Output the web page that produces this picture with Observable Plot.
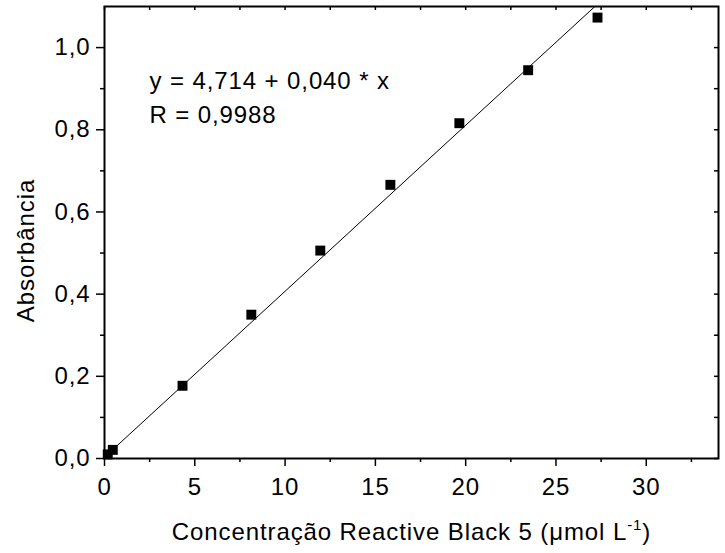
<!DOCTYPE html>
<html><head><meta charset="utf-8">
<script src="https://cdn.jsdelivr.net/npm/d3@7"></script>
<script src="https://cdn.jsdelivr.net/npm/@observablehq/plot@0.6"></script>
<style>body{margin:0;background:#fff} svg text{letter-spacing:0.9px}</style>
</head><body><div id="chart"></div>
<script>
const concentration = [0.18, 0.46, 4.32, 8.13, 11.95, 15.83, 19.65, 23.46, 27.3];
const absorbance = [0.010, 0.021, 0.177, 0.350, 0.506, 0.666, 0.816, 0.945, 1.073];
const fitIntercept = 0.003;
const fitSlope = 0.0404;
const xMajorTicks = [0, 5, 10, 15, 20, 25, 30];
const xMinorTicks = [2.5, 7.5, 12.5, 17.5, 22.5, 27.5, 32.5];
const yMajorTicks = [0, 0.2, 0.4, 0.6, 0.8, 1.0];
const yMinorTicks = [0.1, 0.3, 0.5, 0.7, 0.9];
const equationLines = ["y = 4,714 + 0,040 * x", "R = 0,9988"];
const xLabelMain = "Concentração Reactive Black 5 (μmol L";
const xLabelSup = "-1";
const xLabelEnd = ")";
const yLabel = "Absorbância";

const points = concentration.map((c, i) => ({c, a: absorbance[i]}));
const fitX = [d3.min(concentration), d3.max(concentration)];

const W = 725, H = 553;
const mL = 104, mR = 7, mT = 6, mB = 95;
const innerW = W - mL - mR, innerH = H - mT - mB;
const fmt = d => d3.format(".1f")(d).replace(".", ",");
const FS = 24;

const chart = Plot.plot({
  width: W, height: H,
  marginLeft: mL, marginRight: mR, marginTop: mT, marginBottom: mB,
  style: {fontFamily: "Liberation Sans, Arial, sans-serif", fontSize: FS + "px", background: "#fff", color: "#000"},
  x: {domain: [0, 34]},
  y: {domain: [0, 1.1]},
  marks: [
    Plot.line(fitX, {x: d => d, y: d => fitIntercept + fitSlope * d, stroke: "#000", strokeWidth: 1, clip: true}),
    Plot.dot(points, {x: "c", y: "a", symbol: "square", r: 5.6, fill: "#000", stroke: null}),
    Plot.axisX(xMajorTicks, {tickSize: 8, tickPadding: 11, tickFormat: d => String(d), strokeWidth: 1.5, fontSize: FS, label: null}),
    Plot.axisX(xMinorTicks, {tickSize: 4, tickFormat: () => "", strokeWidth: 1.5, label: null}),
    Plot.axisY(yMajorTicks, {tickSize: 8, tickPadding: 6, tickFormat: fmt, strokeWidth: 1.5, fontSize: FS, label: null}),
    Plot.axisY(yMinorTicks, {tickSize: 4, tickFormat: () => "", strokeWidth: 1.5, label: null}),
    Plot.ruleX(xMajorTicks.concat(xMinorTicks), {x: d => d, insetBottom: innerH - 4, strokeWidth: 1.5}),
    Plot.ruleY(yMajorTicks.concat(yMinorTicks), {y: d => d, insetLeft: innerW - 4, strokeWidth: 1.5}),
    Plot.frame({stroke: "#000", strokeWidth: 2}),
    Plot.text([equationLines.join("\n")], {frameAnchor: "top-left", dx: 45, dy: 58, textAnchor: "start", lineAnchor: "top", lineHeight: 1.417, fontSize: FS, fill: "#000"}),
    Plot.text([xLabelMain + xLabelSup + xLabelEnd], {frameAnchor: "bottom", textAnchor: "middle", dy: 81, lineAnchor: "bottom", fontSize: FS, fill: "#000"}),
    Plot.text([yLabel], {frameAnchor: "left", textAnchor: "middle", rotate: -90, dx: -71, dy: 18, lineAnchor: "bottom", fontSize: FS, fill: "#000"})
  ]
});
document.getElementById("chart").appendChild(chart);

// superscript in x label
d3.select(chart).selectAll("text")
  .filter(function() { return this.textContent === xLabelMain + xLabelSup + xLabelEnd; })
  .each(function() {
    const t = d3.select(this);
    t.text(null);
    t.append("tspan").text(xLabelMain);
    t.append("tspan").attr("dy", "-10").attr("font-size", 15).text(xLabelSup);
    t.append("tspan").attr("dy", "10").text(xLabelEnd);
  });
</script>
</body></html>
